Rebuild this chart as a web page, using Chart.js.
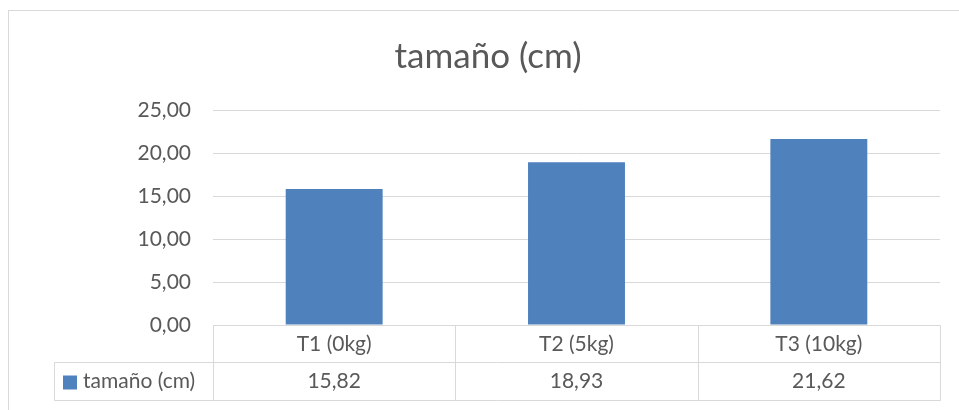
<!DOCTYPE html>
<html>
<head>
<meta charset="utf-8">
<script src="https://cdn.jsdelivr.net/npm/chart.js@4/dist/chart.umd.min.js"></script>
<style>
  html, body { margin: 0; padding: 0; background: #ffffff; }
  #wrap { width: 959px; height: 410px; position: relative; }
</style>
</head>
<body>
<div id="wrap"><canvas id="c" width="959" height="410"></canvas></div>
<script>
// Series and labels
const chartTitle = 'tamaño (cm)';
const categories = ['T1 (0kg)', 'T2 (5kg)', 'T3 (10kg)'];
const seriesName = 'tamaño (cm)';
const sizes = [15.82, 18.93, 21.62];
const yTicks = [0, 5, 10, 15, 20, 25];

const TEXT = '#595959';
const GRID = '#d9d9d9';
const BAR = '#4f81bd';
const FONT = 'Lato, "Open Sans", sans-serif';

const fmt = v => v.toFixed(2).replace('.', ',');

// Title, outer frame and the data table under the plot
const extras = {
  id: 'extras',
  afterDraw(chart) {
    const ctx = chart.ctx;
    const area = chart.chartArea;
    const xs = chart.scales.x;
    ctx.save();

    // outer chart frame
    ctx.strokeStyle = GRID;
    ctx.lineWidth = 1;
    ctx.strokeRect(8.5, 10.5, 1200, 600);

    // title
    ctx.fillStyle = TEXT;
    ctx.font = '35px ' + FONT;
    ctx.textAlign = 'center';
    ctx.textBaseline = 'middle';
    ctx.fillText(chartTitle, 488, 57);

    // table geometry
    const n = categories.length;
    const step = (area.right - area.left) / n;
    const edges = [];
    for (let i = 0; i <= n; i++) edges.push(Math.round(area.left + step * i) + 0.5);
    const r0 = Math.round(area.bottom) + 0.5;
    const r1 = r0 + 37;
    const r2 = r1 + 38;
    const legLeft = 54.5;

    ctx.strokeStyle = GRID;
    ctx.beginPath();
    // horizontal lines
    ctx.moveTo(edges[0], r0); ctx.lineTo(edges[n], r0);
    ctx.moveTo(legLeft, r1); ctx.lineTo(edges[n], r1);
    ctx.moveTo(legLeft, r2); ctx.lineTo(edges[n], r2);
    // vertical lines
    for (let i = 0; i <= n; i++) { ctx.moveTo(edges[i], r0); ctx.lineTo(edges[i], r2); }
    ctx.moveTo(legLeft, r1); ctx.lineTo(legLeft, r2);
    ctx.stroke();

    ctx.fillStyle = TEXT;
    ctx.font = '21px ' + FONT;
    ctx.textAlign = 'center';
    categories.forEach((c, i) => {
      const cx = xs.getPixelForValue(i);
      ctx.fillText(c, cx, (r0 + r1) / 2);
      ctx.fillText(fmt(sizes[i]), cx, (r1 + r2) / 2);
    });

    // legend key in the table
    ctx.fillStyle = BAR;
    ctx.fillRect(63, r1 + 13, 14, 14);
    ctx.fillStyle = TEXT;
    ctx.textAlign = 'left';
    ctx.fillText(seriesName, 83, (r1 + r2) / 2);

    ctx.restore();
  }
};

new Chart(document.getElementById('c'), {
  type: 'bar',
  data: {
    labels: categories,
    datasets: [{
      label: seriesName,
      data: sizes,
      backgroundColor: BAR,
      borderWidth: 0,
      barPercentage: 0.4,
      categoryPercentage: 1.0
    }]
  },
  options: {
    responsive: false,
    animation: false,
    layout: { padding: { top: 110, right: 19, bottom: 85, left: 0 } },
    plugins: {
      legend: { display: false },
      title: { display: false },
      tooltip: { enabled: false }
    },
    scales: {
      x: { display: false },
      y: {
        min: 0,
        max: 25,
        afterBuildTicks(scale) { scale.ticks = yTicks.map(v => ({ value: v })); },
        afterFit(scale) { scale.width = 213; },
        border: { display: false },
        grid: { color: GRID, lineWidth: 1, drawTicks: false },
        ticks: {
          color: TEXT,
          font: { family: FONT, size: 21 },
          padding: 22,
          callback: v => fmt(v)
        }
      }
    }
  },
  plugins: [extras]
});
</script>
</body>
</html>
